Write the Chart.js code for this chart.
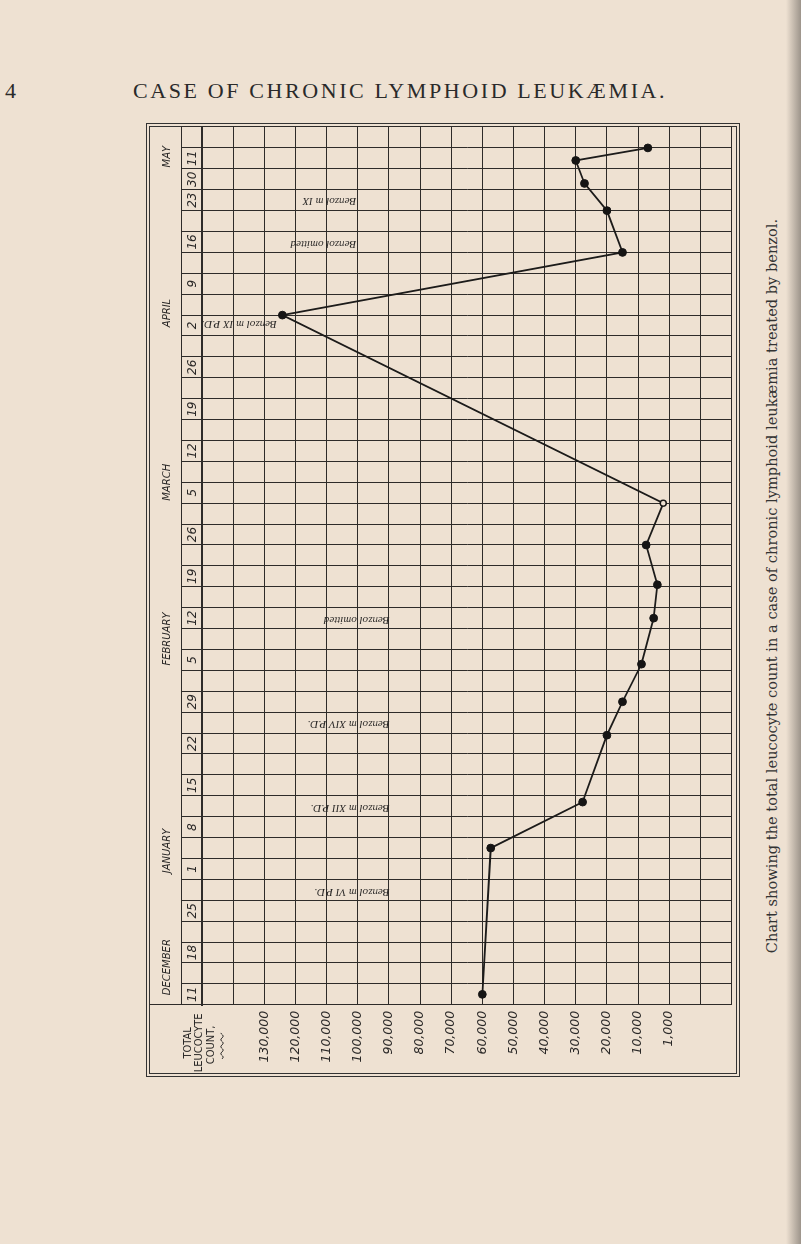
<!DOCTYPE html>
<html>
<head>
<meta charset="utf-8">
<script src="https://cdn.jsdelivr.net/npm/chart.js@4.4.1/dist/chart.umd.min.js"></script>
<style>
html,body{margin:0;padding:0;}
body{width:801px;height:1244px;background:#eee1d2;position:relative;overflow:hidden;}
#wrap{position:absolute;left:0;top:0;width:970px;height:605px;transform-origin:0 0;transform:translate(140px,1085px) rotate(-90deg);}
#frameO{position:absolute;left:146px;top:123px;width:594px;height:954px;border:1px solid #333;box-sizing:border-box;}
#frameI{position:absolute;left:149px;top:126px;width:588px;height:948px;border:1px solid #333;box-sizing:border-box;}
#pg{position:absolute;left:5px;top:78px;font:22px "Liberation Serif",serif;color:#2a2a2a;}
#title{position:absolute;left:133px;top:78px;font:22px "Liberation Serif",serif;letter-spacing:2.6px;color:#2a2a2a;white-space:nowrap;}
#cap{position:absolute;left:322px;top:576px;width:900px;height:20px;text-align:center;transform-origin:450px 10px;transform:rotate(-90deg);font:14.6px "DejaVu Serif",serif;color:#333;white-space:nowrap;line-height:20px;}
#edge{position:absolute;left:786px;top:0;width:15px;height:1244px;background:linear-gradient(to right,rgba(90,85,80,0),rgba(90,85,80,0.55));}
</style>
</head>
<body>
<div id="pg">4</div>
<div id="title">CASE OF CHRONIC LYMPHOID LEUKÆMIA.</div>
<div id="frameO"></div>
<div id="frameI"></div>
<div id="wrap"><canvas id="c" width="970" height="605"></canvas></div>
<div id="cap">Chart showing the total leucocyte count in a case of chronic lymphoid leukæmia treated by benzol.</div>
<div id="edge"></div>
<script>
// ---- data (time in chart weeks from 11 December; one grid row = half a week) ----
const weekLabels    = ['11','18','25','1','8','15','22','29','5','12','19','26','5','12','19','26','2','9','16','23','30','11'];
const weekPositions = [0,1,2,3,4,5,6,7,8,9,10,11,12,13,14,15,16,17,18,19,19.5,20];
const monthNames    = ['DECEMBER','JANUARY','FEBRUARY','MARCH','APRIL','MAY'];
const monthWeeks    = [0.65,3.43,8.5,12.25,16.3,20.04];

const countWeeks      = [0,3.5,4.6,6.2,7.0,7.9,9.0,9.8,10.75,11.75,16.25,17.75,18.75,19.4,19.95,20.25];
const leucocyteCounts = [60000,57300,27800,20000,15000,8900,5000,3800,7400,1900,124200,15000,20000,27200,30000,6850];
const hollowPoint     = 9;

const countTickValues = [130000,120000,110000,100000,90000,80000,70000,60000,50000,40000,30000,20000,10000,0];
const countTickLabels = ['130,000','120,000','110,000','100,000','90,000','80,000','70,000','60,000','50,000','40,000','30,000','20,000','10,000','1,000'];

const noteTexts  = ['Benzol m IX P.D.','Benzol m IX','Benzol omitted','Benzol omitted','Benzol m XIV P.D.','Benzol m XII P.D.','Benzol m VI P.D.'];
const noteWeeks  = [16.05,18.98,17.95,8.95,6.48,4.45,2.45];
const noteCounts = [126000,100500,100500,89800,89800,89800,89800];

const axisTitle = ['TOTAL','LEUCOCYTE','COUNT,'];

// ---- styling ----
const LINE = '#2e2b29';
const INK = '#2a2827';
const PAPER = '#eee1d2';
const WMIN = -0.25, WMAX = 20.75;

function near(a,b){return Math.abs(a-b)<1e-6;}
function weekLabelFor(v){const i=weekPositions.findIndex(p=>near(p,v));return i<0?'':weekLabels[i];}
function monthLabelFor(v){const i=monthWeeks.findIndex(p=>near(p,v));return i<0?'':monthNames[i];}
function isRowLine(v){const k=Math.round((v-WMIN)*4);return k%2===0;}

const notesPlugin = {
  id:'notes',
  afterDraw(chart){
    const {ctx, scales:{x,y}} = chart;
    ctx.save();
    ctx.fillStyle = INK;
    ctx.font = 'italic 11px "Liberation Serif"';
    ctx.textBaseline = 'middle';
    ctx.textAlign = 'left';
    noteTexts.forEach((t,i)=>{
      const px = x.getPixelForValue(noteWeeks[i]);
      const py = y.getPixelForValue(noteCounts[i]);
      ctx.save(); ctx.translate(px,py); ctx.rotate(-Math.PI/2); ctx.fillText(t,0,0); ctx.restore();
    });
    // axis title, written across the corner box
    const cx = (y.left + y.right)/2 + 2;
    const top = chart.chartArea.top;
    ctx.font = '11px "DejaVu Sans Condensed"';
    ctx.textAlign = 'center';
    ctx.fillText(axisTitle[0], cx, top-14);
    ctx.fillText(axisTitle[1], cx, top-3);
    ctx.fillText(axisTitle[2], cx-2, top+9);
    // wavy rule under the title
    ctx.strokeStyle = INK; ctx.lineWidth = 1;
    ctx.beginPath();
    for(let i=0;i<=26;i++){const xx=cx-16+i; const yy=top+20+Math.sin(i*0.9)*1.2; if(i===0)ctx.moveTo(xx,yy); else ctx.lineTo(xx,yy);}
    ctx.stroke();
    ctx.restore();
  }
};

new Chart(document.getElementById('c'), {
  type:'line',
  data:{datasets:[{
    data: countWeeks.map((w,i)=>({x:w, y:leucocyteCounts[i]})),
    xAxisID:'x', yAxisID:'y',
    borderColor:'#1c1b1a', borderWidth:1.8, tension:0, fill:false,
    pointRadius: leucocyteCounts.map((_,i)=> i===hollowPoint?3:3.9),
    pointBackgroundColor: leucocyteCounts.map((_,i)=> i===hollowPoint?PAPER:'#151414'),
    pointBorderColor:'#151414', pointBorderWidth: leucocyteCounts.map((_,i)=> i===hollowPoint?1.4:1),
    clip:false
  }]},
  options:{
    responsive:false, animation:false, devicePixelRatio:1,
    events:[],
    layout:{padding:{left:0,right:12,top:9.7,bottom:8.8}},
    plugins:{legend:{display:false},tooltip:{enabled:false}},
    scales:{
      x:{
        type:'linear', position:'top', min:WMIN, max:WMAX, weight:0,
        afterBuildTicks(s){const t=[];for(let k=0;k<=84;k++)t.push({value:WMIN+k*0.25});s.ticks=t;},
        afterFit(s){s.height=20.3;},
        grid:{color:c=> (c.tick && isRowLine(c.tick.value))?LINE:'rgba(0,0,0,0)', lineWidth:1, tickLength:20.3},
        border:{display:true,color:LINE,width:2},
        ticks:{autoSkip:false,minRotation:0,maxRotation:0,padding:-18.5,color:INK,
               font:{family:'DejaVu Sans',style:'italic',size:12},
               callback:v=>weekLabelFor(v)}
      },
      xm:{
        type:'linear', position:'top', min:WMIN, max:WMAX, weight:1,
        afterBuildTicks(s){s.ticks=[{value:WMIN}].concat(monthWeeks.map(v=>({value:v})));},
        afterFit(s){s.height=32;},
        grid:{drawOnChartArea:false, tickLength:32, lineWidth:1, color:c=> (c.tick && near(c.tick.value,WMIN))?LINE:'rgba(0,0,0,0)'},
        border:{display:true,color:LINE,width:1},
        ticks:{autoSkip:false,minRotation:0,maxRotation:0,padding:-23.3,color:INK,
               font:{family:'DejaVu Sans',style:'italic',size:10},
               callback:v=>monthLabelFor(v)}
      },
      y:{
        type:'linear', min:-20000, max:150000,
        afterFit(s){s.width=80.2;},
        grid:{color:LINE, lineWidth:1, drawTicks:false},
        border:{display:true,color:LINE,width:1},
        ticks:{stepSize:10000, padding:6, color:INK,
               font:{family:'DejaVu Sans',style:'italic',size:12.5},
               callback:v=>{const i=countTickValues.indexOf(v);return i<0?'':countTickLabels[i];}}
      }
    }
  },
  plugins:[notesPlugin]
});
</script>
</body>
</html>
